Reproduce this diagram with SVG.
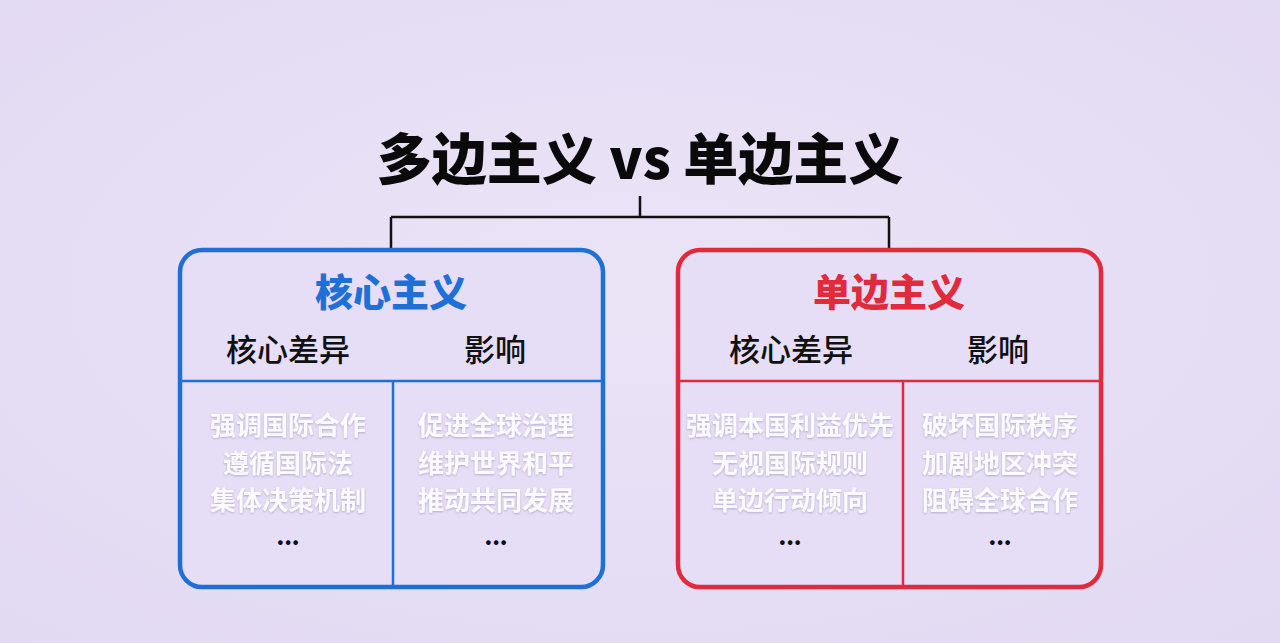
<svg xmlns="http://www.w3.org/2000/svg" width="1280" height="643" viewBox="0 0 1280 643">
  <defs>
    <radialGradient id="bg" cx="50%" cy="45%" r="75%">
      <stop offset="0" stop-color="#ebe4f7"/>
      <stop offset="1" stop-color="#e2d9f2"/>
    </radialGradient>
    <filter id="soft" x="-10%" y="-20%" width="120%" height="140%">
      <feDropShadow dx="0" dy="1" stdDeviation="1.2" flood-color="#8a80a8" flood-opacity="0.55"/>
    </filter>
    <style>
      text { font-family: "Noto Sans CJK SC", "Noto Sans", "Liberation Sans", sans-serif; text-anchor: middle; }
      .title { font-size: 55px; font-weight: 900; fill: #0a0a0a; }
      .head { font-size: 38px; font-weight: 900; }
      .sub { font-size: 31px; font-weight: 500; fill: #111; }
      .body { font-size: 26px; font-weight: 700; fill: #fbfaff; filter: url(#soft); }
      .dots { font-size: 22px; font-weight: 900; fill: #111; }
      .conn { stroke: #111; stroke-width: 2.5; fill: none; }
      .boxL { fill: #e6def6; stroke: #1f6fd8; stroke-width: 4.5; }
      .boxR { fill: #e6def6; stroke: #e12a3c; stroke-width: 4.5; }
      .divL { stroke: #1f6fd8; stroke-width: 2.5; }
      .divR { stroke: #e12a3c; stroke-width: 2.5; }
    </style>
  </defs>
  <rect width="1280" height="643" fill="url(#bg)"/>

  <g id="title">
    <text class="title" x="640" y="179">多边主义 vs 单边主义</text>
  </g>

  <g id="connectors">
    <path class="conn" d="M640 196 V217 M391 217 H889 M391 217 V249 M889 217 V249"/>
  </g>

  <g id="multilateral">
    <rect class="boxL" x="180" y="250" width="423" height="337" rx="22"/>
    <line class="divL" x1="182" y1="381" x2="601" y2="381"/>
    <line class="divL" x1="393" y1="381" x2="393" y2="585"/>
    <text class="head" x="391" y="306" fill="#1f6fd8">核心主义</text>
    <text class="sub" x="288" y="361">核心差异</text>
    <text class="sub" x="495" y="361">影响</text>
    <text class="body" x="288" y="435">强调国际合作</text>
    <text class="body" x="288" y="473">遵循国际法</text>
    <text class="body" x="288" y="510">集体决策机制</text>
    <text class="dots" x="288" y="545">...</text>
    <text class="body" x="496" y="435">促进全球治理</text>
    <text class="body" x="496" y="473">维护世界和平</text>
    <text class="body" x="496" y="510">推动共同发展</text>
    <text class="dots" x="496" y="545">...</text>
  </g>

  <g id="unilateral">
    <rect class="boxR" x="678" y="250" width="423" height="337" rx="22"/>
    <line class="divR" x1="680" y1="381" x2="1099" y2="381"/>
    <line class="divR" x1="903" y1="381" x2="903" y2="585"/>
    <text class="head" x="889" y="306" fill="#e12a3c">单边主义</text>
    <text class="sub" x="791" y="361">核心差异</text>
    <text class="sub" x="998" y="361">影响</text>
    <text class="body" x="790" y="435">强调本国利益优先</text>
    <text class="body" x="790" y="473">无视国际规则</text>
    <text class="body" x="790" y="510">单边行动倾向</text>
    <text class="dots" x="790" y="545">...</text>
    <text class="body" x="1000" y="435">破坏国际秩序</text>
    <text class="body" x="1000" y="473">加剧地区冲突</text>
    <text class="body" x="1000" y="510">阻碍全球合作</text>
    <text class="dots" x="1000" y="545">...</text>
  </g>
</svg>
